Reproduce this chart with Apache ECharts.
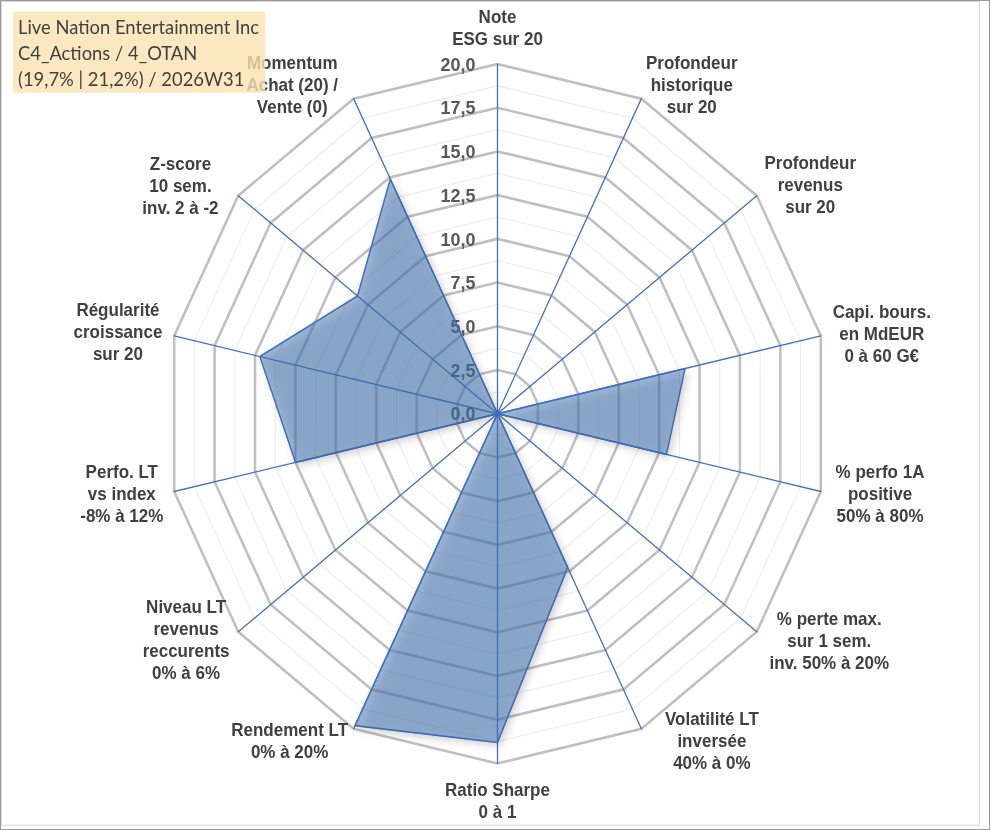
<!DOCTYPE html>
<html>
<head>
<meta charset="utf-8">
<script src="https://cdn.jsdelivr.net/npm/echarts@6/dist/echarts.min.js"></script>
<style>
html, body { margin: 0; padding: 0; background: #fff; width: 991px; height: 830px; }
/* le graphique source est légèrement étiré en hauteur */
#chart { width: 991px; height: 787px; transform: scaleY(1.0546); transform-origin: 0 0; }
</style>
</head>
<body>
<div id="chart"></div>
<script>
var stretchY = 1.0546;

// libellés des axes, dans le sens horaire à partir du haut
var axisNames = [
	'Note\nESG sur 20',
	'Profondeur\nhistorique\nsur 20',
	'Profondeur\nrevenus\nsur 20',
	'Capi. bours.\nen MdEUR\n0 à 60 G€',
	'% perfo 1A\npositive\n50% à 80%',
	'% perte max.\nsur 1 sem.\ninv. 50% à 20%',
	'Volatilité LT\ninversée\n40% à 0%',
	'Ratio Sharpe\n0 à 1',
	'Rendement LT\n0% à 20%',
	'Niveau LT\nrevenus\nreccurents\n0% à 6%',
	'Perfo. LT\nvs index\n-8% à 12%',
	'Régularité\ncroissance\nsur 20',
	'Z-score\n10 sem.\ninv. 2 à -2',
	'Momentum\nAchat (20) /\nVente (0)'
];
// notes sur 20
var scores = [0, 0, 0, 11.6, 10.45, 0, 9.75, 18.8, 19.8, 0, 12.5, 14.7, 10.8, 14.9];
var scaleMin = 0;
var scaleMax = 20;
var majorSplits = 8;   // 2,5
var minorSplits = 16;  // 1,25
var titleLines = ['Live Nation Entertainment Inc', 'C4_Actions / 4_OTAN', '(19,7% | 21,2%) / 2026W31'];
var seriesName = 'Live Nation Entertainment Inc';

// petit décalage [dx, dy] des libellés pour coller au placement Excel
var nameNudge = [
	[0, -3.5], [2, -8], [3, -7], [6, -1], [9, 1], [8, 5], [21, 6],
	[0, 9], [-3, 6], [-4, 4], [-5, 1], [-6, -3], [-15, -6], [-13, -8]
];

// echarts tourne dans le sens anti-horaire : on inverse l'ordre
var order = [0];
for (var i = axisNames.length - 1; i > 0; i--) {
	order.push(i);
}

var labelFont = 'Liberation Sans, Arial, sans-serif';

function buildIndicators(withLabel) {
	return order.map(function (idx, k) {
		var ind = { name: axisNames[idx], min: scaleMin, max: scaleMax };
		if (!withLabel || k > 0) {
			ind.axisLabel = { show: false };
		}
		return ind;
	});
}

// un style rich par libellé : lignes centrées + décalage via padding
var nameRich = {};
axisNames.forEach(function (n, idx) {
	var dx = nameNudge[idx][0];
	var dy = nameNudge[idx][1] / stretchY;
	var pad = [0, 0, 0, 0];
	if (dy > 0) pad[0] = 2 * dy; else pad[2] = -2 * dy;
	if (dx > 0) pad[3] = dx; else pad[1] = -dx;
	nameRich['n' + idx] = {
		align: 'center',
		fontSize: 17,
		fontWeight: 'bold',
		fontFamily: labelFont,
		color: '#404040',
		lineHeight: 21,
		padding: pad
	};
});

var chart = echarts.init(document.getElementById('chart'), null, { renderer: 'svg' });

var option = {
	animation: false,
	title: {
		text: titleLines.join('\n'),
		left: 13,
		top: 11,
		padding: [1, 6, 1, 5],
		backgroundColor: 'rgba(251,226,176,0.8)',
		textStyle: {
			fontFamily: 'Lato',
			fontWeight: 'normal',
			fontSize: 18.4,
			lineHeight: 25,
			color: '#404040'
		}
	},
	graphic: [
		{ type: 'rect', silent: true, shape: { x: 0.5, y: 0.5, width: 989, height: 786 }, style: { fill: 'none', stroke: '#9A9A9A', lineWidth: 1 } },
		{ type: 'rect', silent: true, shape: { x: 1.5, y: 1.5, width: 978, height: 781 }, style: { fill: 'none', stroke: '#D9D9D9', lineWidth: 1 } }
	],
	radar: [
		{
			// quadrillage secondaire
			center: [497.5, 392.3],
			radius: 331.6,
			shape: 'polygon',
			splitNumber: minorSplits,
			indicator: buildIndicators(false),
			axisName: { show: false },
			axisLine: { show: false },
			axisTick: { show: false },
			axisLabel: { show: false },
			splitArea: { show: false },
			splitLine: { lineStyle: { color: '#EBEBEB', width: 1 } }
		},
		{
			center: [497.5, 392.3],
			radius: 331.6,
			shape: 'polygon',
			splitNumber: majorSplits,
			nameGap: 6,
			indicator: buildIndicators(true),
			axisName: {
				formatter: function (name) {
					var idx = axisNames.indexOf(name);
					return name.split('\n').map(function (l) {
						return '{n' + idx + '|' + l + '}';
					}).join('\n');
				},
				rich: nameRich
			},
			axisLine: { lineStyle: { color: '#4472C4', width: 1.3 } },
			axisTick: { show: false },
			axisLabel: {
				show: true,
				margin: 22,
				fontSize: 18,
				fontWeight: 'bold',
				fontFamily: labelFont,
				color: '#595959',
				formatter: function (v) {
					return v.toFixed(1).replace('.', ',');
				}
			},
			splitArea: { show: false },
			splitLine: { lineStyle: { color: '#BFBFBF', width: 2.5 } }
		}
	],
	series: [{
		type: 'radar',
		radarIndex: 1,
		symbol: 'none',
		lineStyle: { color: '#4472C4', width: 1.5 },
		areaStyle: {
			color: 'rgba(68,114,176,0.72)',
			shadowBlur: 8,
			shadowColor: 'rgba(0,0,0,0.4)',
			shadowOffsetX: 3,
			shadowOffsetY: 3
		},
		data: [{
			name: seriesName,
			value: order.map(function (idx) { return scores[idx]; })
		}]
	}]
};
chart.setOption(option);
</script>
</body>
</html>
